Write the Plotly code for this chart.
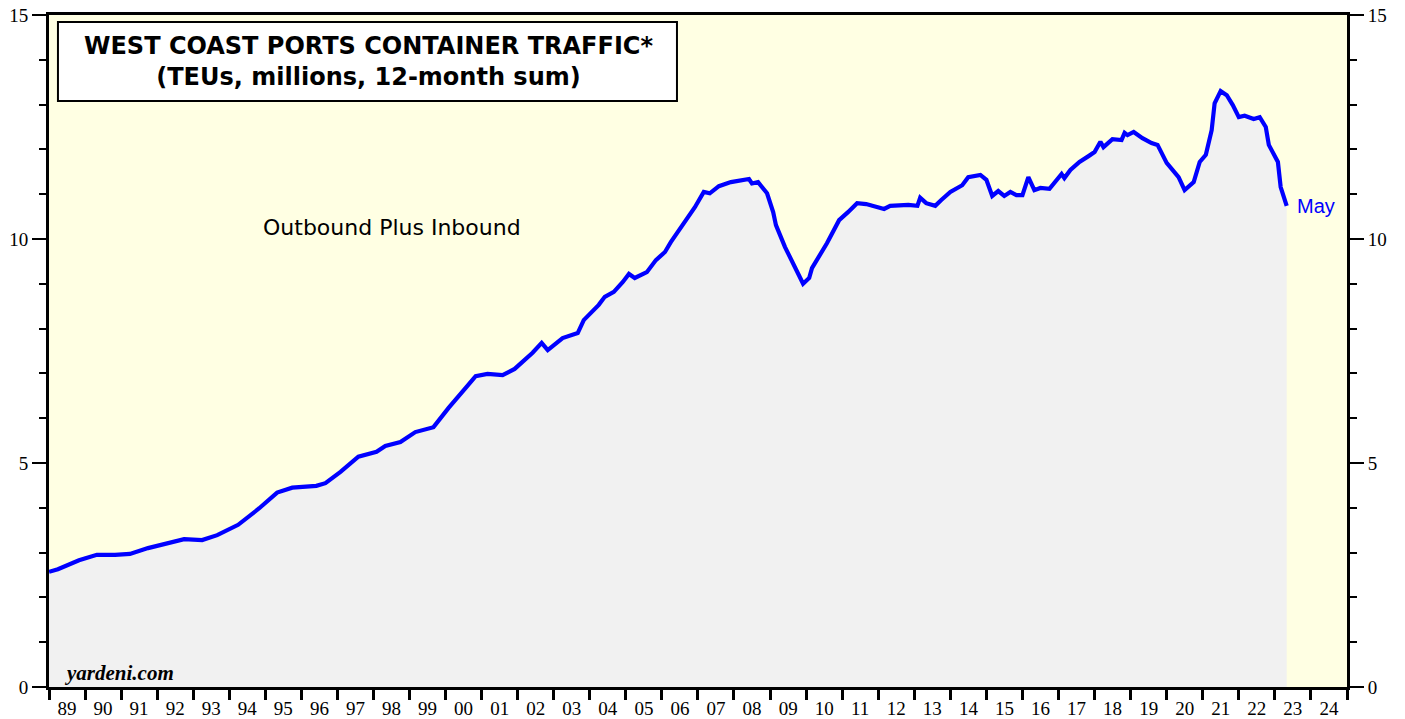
import plotly.graph_objects as go

# Monthly readings (12-month sum of TEUs, millions)
dates = [
    "1989-01", "1989-04", "1989-11", "1990-05", "1990-11", "1991-04", "1991-10",
    "1992-05", "1992-10", "1993-04", "1993-09", "1994-04", "1994-11", "1995-05",
    "1995-10", "1996-06", "1996-09", "1997-02", "1997-08", "1998-02", "1998-05",
    "1998-10", "1999-03", "1999-09", "2000-02", "2000-08", "2000-11", "2001-03",
    "2001-08", "2001-12", "2002-06", "2002-09", "2002-11", "2003-04", "2003-09",
    "2003-11", "2004-04", "2004-06", "2004-09", "2004-12", "2005-02", "2005-04",
    "2005-08", "2005-11", "2006-02", "2006-04", "2006-08", "2006-12", "2007-03",
    "2007-05", "2007-08", "2007-12", "2008-06", "2008-07", "2008-09", "2008-12",
    "2009-02", "2009-03", "2009-06", "2009-09", "2009-12", "2010-02", "2010-03",
    "2010-08", "2010-12", "2011-03", "2011-06", "2011-09", "2012-01", "2012-03",
    "2012-05", "2012-11", "2013-02", "2013-03", "2013-05", "2013-08", "2013-10",
    "2014-01", "2014-05", "2014-07", "2014-11", "2015-01", "2015-03", "2015-05",
    "2015-07", "2015-09", "2015-11", "2016-01", "2016-03", "2016-05", "2016-07",
    "2016-10", "2017-02", "2017-03", "2017-05", "2017-08", "2017-11", "2018-01",
    "2018-03", "2018-04", "2018-07", "2018-10", "2018-11", "2018-12", "2019-02",
    "2019-04", "2019-05", "2019-08", "2019-10", "2020-01", "2020-05", "2020-07",
    "2020-10", "2020-12", "2021-02", "2021-04", "2021-05", "2021-07", "2021-09",
    "2021-11", "2022-01", "2022-03", "2022-06", "2022-08", "2022-10", "2022-11",
    "2023-02", "2023-03", "2023-05",
]
teus = [
    2.57, 2.63, 2.83, 2.95, 2.95, 2.97, 3.10,
    3.22, 3.30, 3.28, 3.39, 3.62, 3.99, 4.34,
    4.45, 4.49, 4.55, 4.80, 5.14, 5.25, 5.38,
    5.47, 5.69, 5.80, 6.23, 6.70, 6.94, 6.99,
    6.96, 7.10, 7.46, 7.68, 7.52, 7.79, 7.90,
    8.19, 8.53, 8.71, 8.82, 9.04, 9.22, 9.13,
    9.26, 9.53, 9.71, 9.93, 10.31, 10.71, 11.05,
    11.02, 11.18, 11.27, 11.34, 11.24, 11.27, 11.02,
    10.60, 10.31, 9.82, 9.38, 9.00, 9.13, 9.35,
    9.91, 10.42, 10.60, 10.80, 10.78, 10.69, 10.67,
    10.74, 10.76, 10.74, 10.92, 10.80, 10.74, 10.87,
    11.05, 11.20, 11.38, 11.43, 11.32, 10.96, 11.07,
    10.96, 11.05, 10.98, 10.98, 11.38, 11.09, 11.14,
    11.12, 11.45, 11.36, 11.54, 11.72, 11.85, 11.94,
    12.17, 12.05, 12.23, 12.21, 12.37, 12.32, 12.39,
    12.28, 12.25, 12.14, 12.10, 11.70, 11.38, 11.09,
    11.27, 11.72, 11.88, 12.43, 13.03, 13.30, 13.21,
    12.99, 12.72, 12.75, 12.68, 12.72, 12.50, 12.10,
    11.72, 11.16, 10.74,
]

y_ticks = [0, 5, 10, 15]
x_range = ["1989-01-01", "2025-01-01"]
y_range = [0, 15]

title_lines = ["WEST COAST PORTS CONTAINER TRAFFIC*", "(TEUs, millions, 12-month sum)"]
series_label = "Outbound Plus Inbound"
last_label = "May"
source = "yardeni.com"

fig = go.Figure()
fig.add_trace(go.Scatter(
    x=dates, y=teus, mode="lines",
    line=dict(color="#0000FF", width=4.2),
    fill="tozeroy", fillcolor="#F1F1F1",
    hoverinfo="skip", showlegend=False,
))
# invisible trace to activate right axis
fig.add_trace(go.Scatter(
    x=[dates[0]], y=[teus[0]], yaxis="y2", mode="markers",
    marker=dict(opacity=0), hoverinfo="skip", showlegend=False,
))

serif = "Liberation Serif, Times New Roman, serif"
sans = "Liberation Sans, Arial, sans-serif"

yax_common = dict(
    range=y_range, tickvals=y_ticks, ticks="outside", ticklen=14, tickwidth=2,
    tickcolor="black", showgrid=False, zeroline=False, fixedrange=True,
    automargin=False, ticklabeloverflow="allow",
    tickfont=dict(family=serif, size=19, color="black"),
    minor=dict(dtick=1, ticks="outside", ticklen=7, tickwidth=2, tickcolor="black", showgrid=False),
)

fig.update_layout(
    width=1405, height=719,
    margin=dict(l=49, r=58, t=15, b=32),
    paper_bgcolor="white", plot_bgcolor="#FFFFE3",
    xaxis=dict(
        type="date", range=x_range, dtick="M12", tick0="1989-01-01",
        ticklabelmode="period", tickformat="%y", automargin=False,
        ticklabeloverflow="allow", ticklabelstandoff=-8,
        ticks="outside", ticklen=10, tickwidth=3, tickcolor="black",
        showline=True, linewidth=3, linecolor="black", mirror=True,
        showgrid=False, zeroline=False, fixedrange=True,
        tickfont=dict(family=serif, size=19, color="black"),
    ),
    yaxis=dict(showline=True, linewidth=3, linecolor="black", mirror=True, **yax_common),
    yaxis2=dict(overlaying="y", side="right", showline=True, linewidth=3,
                linecolor="black", **yax_common),
)

# Title box
fig.add_shape(type="rect", xref="paper", yref="paper",
              x0=0.0069, x1=0.4838, y0=0.872, y1=0.9896,
              line=dict(color="black", width=2), fillcolor="white")
fig.add_annotation(
    xref="paper", yref="paper", x=0.2458, y=0.931,
    text="<b>" + title_lines[0] + "</b><br><b>" + title_lines[1] + "</b>",
    showarrow=False, xanchor="center", yanchor="middle", align="center",
    font=dict(family="DejaVu Sans, sans-serif", size=24, color="black"),
)
fig.add_annotation(
    xref="paper", yref="paper", x=(392 - 49) / 1298, y=(687 - 227) / 672,
    text=series_label, showarrow=False, xanchor="center", yanchor="middle",
    font=dict(family="DejaVu Sans, sans-serif", size=22, color="black"),
)
fig.add_annotation(
    xref="x", yref="y", x=dates[-1], y=teus[-1], text=last_label,
    showarrow=False, xanchor="left", yanchor="middle", xshift=8,
    font=dict(family=sans, size=20, color="#0000FF"),
)
fig.add_annotation(
    xref="paper", yref="paper", x=(62 - 49) / 1298, y=(687 - 673) / 672,
    text="<b><i>" + source + "</i></b>", showarrow=False,
    xanchor="left", yanchor="middle",
    font=dict(family=serif, size=21, color="black"),
)

# remove the page's default body margin so the figure sits at the window origin
fig.write_html(
    "out.html",
    config={"displayModeBar": False, "staticPlot": True},
    post_script="document.body.style.margin='0px';document.body.style.overflow='hidden';",
)
